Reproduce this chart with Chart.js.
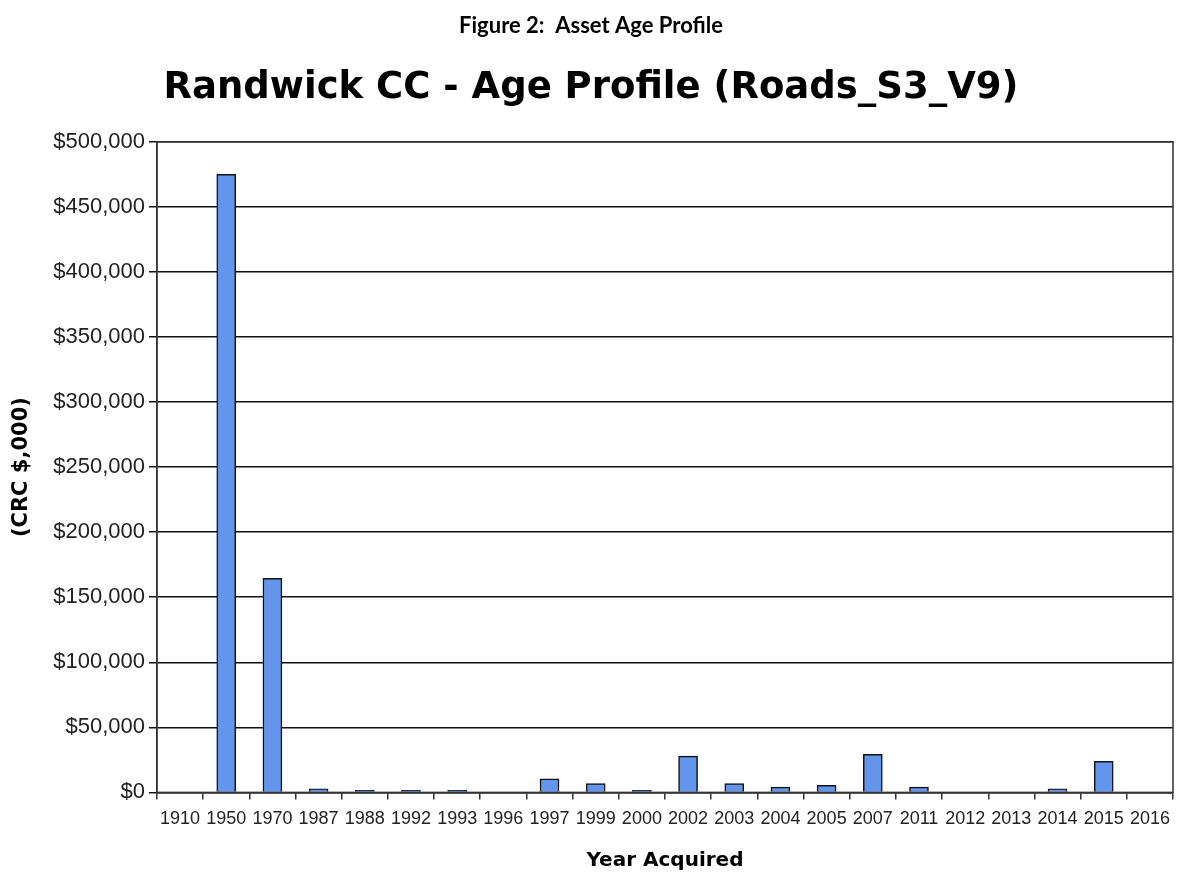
<!DOCTYPE html>
<html>
<head>
<meta charset="utf-8">
<script src="https://cdn.jsdelivr.net/npm/chart.js@4"></script>
<style>
  body { margin: 0; background: #fff; }
  #wrap { position: relative; width: 1180px; height: 873px; }
</style>
</head>
<body>
<div id="wrap"><canvas id="chart"></canvas></div>
<script>
const years = ["1910", "1950", "1970", "1987", "1988", "1992", "1993", "1996", "1997", "1999", "2000",
    "2002", "2003", "2004", "2005", "2007", "2011", "2012", "2013", "2014", "2015", "2016"];
const crcValues = [0, 475000, 164500, 2800, 1500, 1500, 1500, 0, 10500, 6700, 1500,
    27900, 6700, 4100, 5400, 29200, 4100, 0, 0, 2800, 23800, 0];
const yTicks = { min: 0, max: 500000, step: 50000 };

// cadre noir autour de la zone de tracé
const frame = {
    id: "frame",
    afterDraw(chart) {
        const { ctx, chartArea: a } = chart;
        ctx.save();
        ctx.strokeStyle = "#333";
        ctx.lineWidth = 1.5;
        ctx.strokeRect(a.left, a.top, a.right - a.left, a.bottom - a.top);
        ctx.restore();
    },
};

const ctx = document.getElementById("chart").getContext("2d");

new Chart(ctx, {
    type: "bar",
    data: {
        labels: years,
        datasets: [
            {
                label: "CRC",
                data: crcValues,
                backgroundColor: "#6495ED",
                borderColor: "#111",
                borderWidth: 1.5,
                barThickness: 19,
            },
        ],
    },
    options: {
        responsive: true,
        maintainAspectRatio: false,
        animation: false,
        layout: { padding: { left: 9, right: 7, bottom: 0 } },
        plugins: {
            legend: { display: false },
            tooltip: { enabled: false },
            title: {
                display: true,
                text: "Figure 2:  Asset Age Profile",
                color: "#000",
                font: { family: "Lato", size: 22, weight: "bold" },
                padding: { top: 13, bottom: 27 },
            },
            subtitle: {
                display: true,
                text: "Randwick CC - Age Profile (Roads_S3_V9)",
                color: "#000",
                font: { family: "DejaVu Sans", size: 37, weight: "bold" },
                padding: { top: 0, bottom: 31 },
            },
        },
        scales: {
            x: {
                grid: {
                    display: true,
                    drawOnChartArea: false,
                    offset: true,
                    color: "#333",
                    lineWidth: 1.5,
                    tickLength: 7,
                },
                border: { color: "#333", width: 1.5 },
                ticks: {
                    color: "#222",
                    font: { family: "Liberation Sans", size: 18 },
                    maxRotation: 0,
                    autoSkip: false,
                    padding: 9,
                },
                title: {
                    display: true,
                    text: "Year Acquired",
                    color: "#000",
                    font: { family: "DejaVu Sans", size: 20, weight: "bold" },
                    padding: { top: 10, bottom: 0 },
                },
            },
            y: {
                min: yTicks.min,
                max: yTicks.max,
                grid: {
                    color: "#111",
                    lineWidth: 1.5,
                    tickLength: 8,
                },
                border: { color: "#333", width: 1.5 },
                ticks: {
                    stepSize: yTicks.step,
                    color: "#222",
                    font: { family: "Liberation Sans", size: 22 },
                    padding: 4,
                    callback: (v) => "$" + v.toLocaleString("en-US"),
                },
                title: {
                    display: true,
                    text: "(CRC $,000)",
                    color: "#000",
                    font: { family: "DejaVu Sans", size: 21, weight: "bold" },
                    padding: { top: 0, bottom: 15 },
                },
            },
        },
    },
    plugins: [frame],
});
</script>
</body>
</html>
